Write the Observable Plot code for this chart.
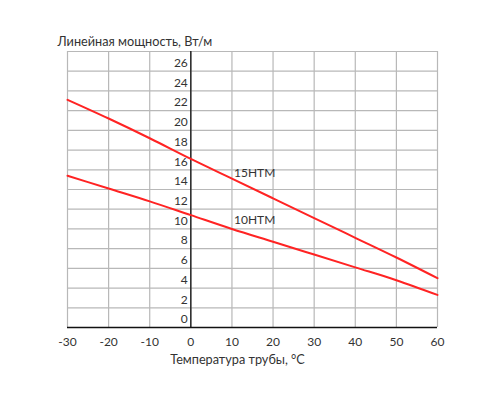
<!DOCTYPE html>
<html><head><meta charset="utf-8">
<script src="https://cdn.jsdelivr.net/npm/d3@7"></script>
<script src="https://cdn.jsdelivr.net/npm/@observablehq/plot@0.6"></script>
<style>body{margin:0;background:#fff;} svg{display:block;}</style>
</head><body><div id="chart"></div>
<script>
const temps = [-30, -20, -10, 0, 10, 20, 30, 40, 50, 60];
const htm15 = [23.1, 21.2, 19.2, 17.1, 15.1, 13.1, 11.1, 9.1, 7.1, 5.0];
const htm10 = [15.4, 14.1, 12.8, 11.4, 10.0, 8.7, 7.4, 6.1, 4.8, 3.3];
const seriesNames = ["15HTM", "10HTM"];
const labelPos = [[10.5, 15.7], [10.5, 10.9]];
const xTicks = [-30, -20, -10, 0, 10, 20, 30, 40, 50, 60];
const yTicks = [0, 2, 4, 6, 8, 10, 12, 14, 16, 18, 20, 22, 24, 26];
const yGrid = [0, 2, 4, 6, 8, 10, 12, 14, 16, 18, 20, 22, 24, 26, 28];
const yTitle = "Линейная мощность, Вт/м";
const xTitle = "Температура трубы, °С";

const rows = [];
[htm15, htm10].forEach((vals, i) => temps.forEach((t, j) => rows.push({series: seriesNames[i], t, v: vals[j]})));
const labels = seriesNames.map((s, i) => ({s, x: labelPos[i][0], y: labelPos[i][1]}));

const chart = Plot.plot({
  width: 500, height: 400,
  marginLeft: 67, marginRight: 63, marginTop: 51, marginBottom: 73,
  style: {fontFamily: "Lato, 'Noto Sans', sans-serif", color: "#333", background: "#fff"},
  x: {domain: [-30, 60], axis: null},
  y: {domain: [0, 28], axis: null},
  marks: [
    Plot.ruleX(xTicks, {stroke: "#b8b8b8", strokeWidth: 1.2}),
    Plot.ruleY(yGrid, {stroke: "#b8b8b8", strokeWidth: 1.2}),
    Plot.ruleX([0], {stroke: "#111", strokeWidth: 1.3}),
    Plot.ruleY([0], {stroke: "#111", strokeWidth: 1.3}),
    Plot.line(rows, {x: "t", y: "v", z: "series", stroke: "#ff2323", strokeWidth: 2, curve: "monotone-x"}),
    Plot.text(yTicks, {x: 0, y: d => d, text: d => String(d), textAnchor: "end", dx: -3, dy: -8, fontSize: 12, fill: "#333"}),
    Plot.text(xTicks, {x: d => d, y: 0, text: d => String(d), dy: 15, fontSize: 12, fill: "#333"}),
    Plot.text(labels, {x: "x", y: "y", text: "s", textAnchor: "start", fontSize: 12, fill: "#333"}),
    Plot.text([yTitle], {frameAnchor: "top-left", lineAnchor: "middle", text: d => d, dx: -10, dy: -10, fontSize: 12.7, fill: "#333"}),
    Plot.text([xTitle], {frameAnchor: "bottom", lineAnchor: "middle", text: d => d, dx: -15, dy: 32, fontSize: 12.7, fill: "#333"})
  ]
});
document.getElementById("chart").appendChild(chart);
</script></body></html>
